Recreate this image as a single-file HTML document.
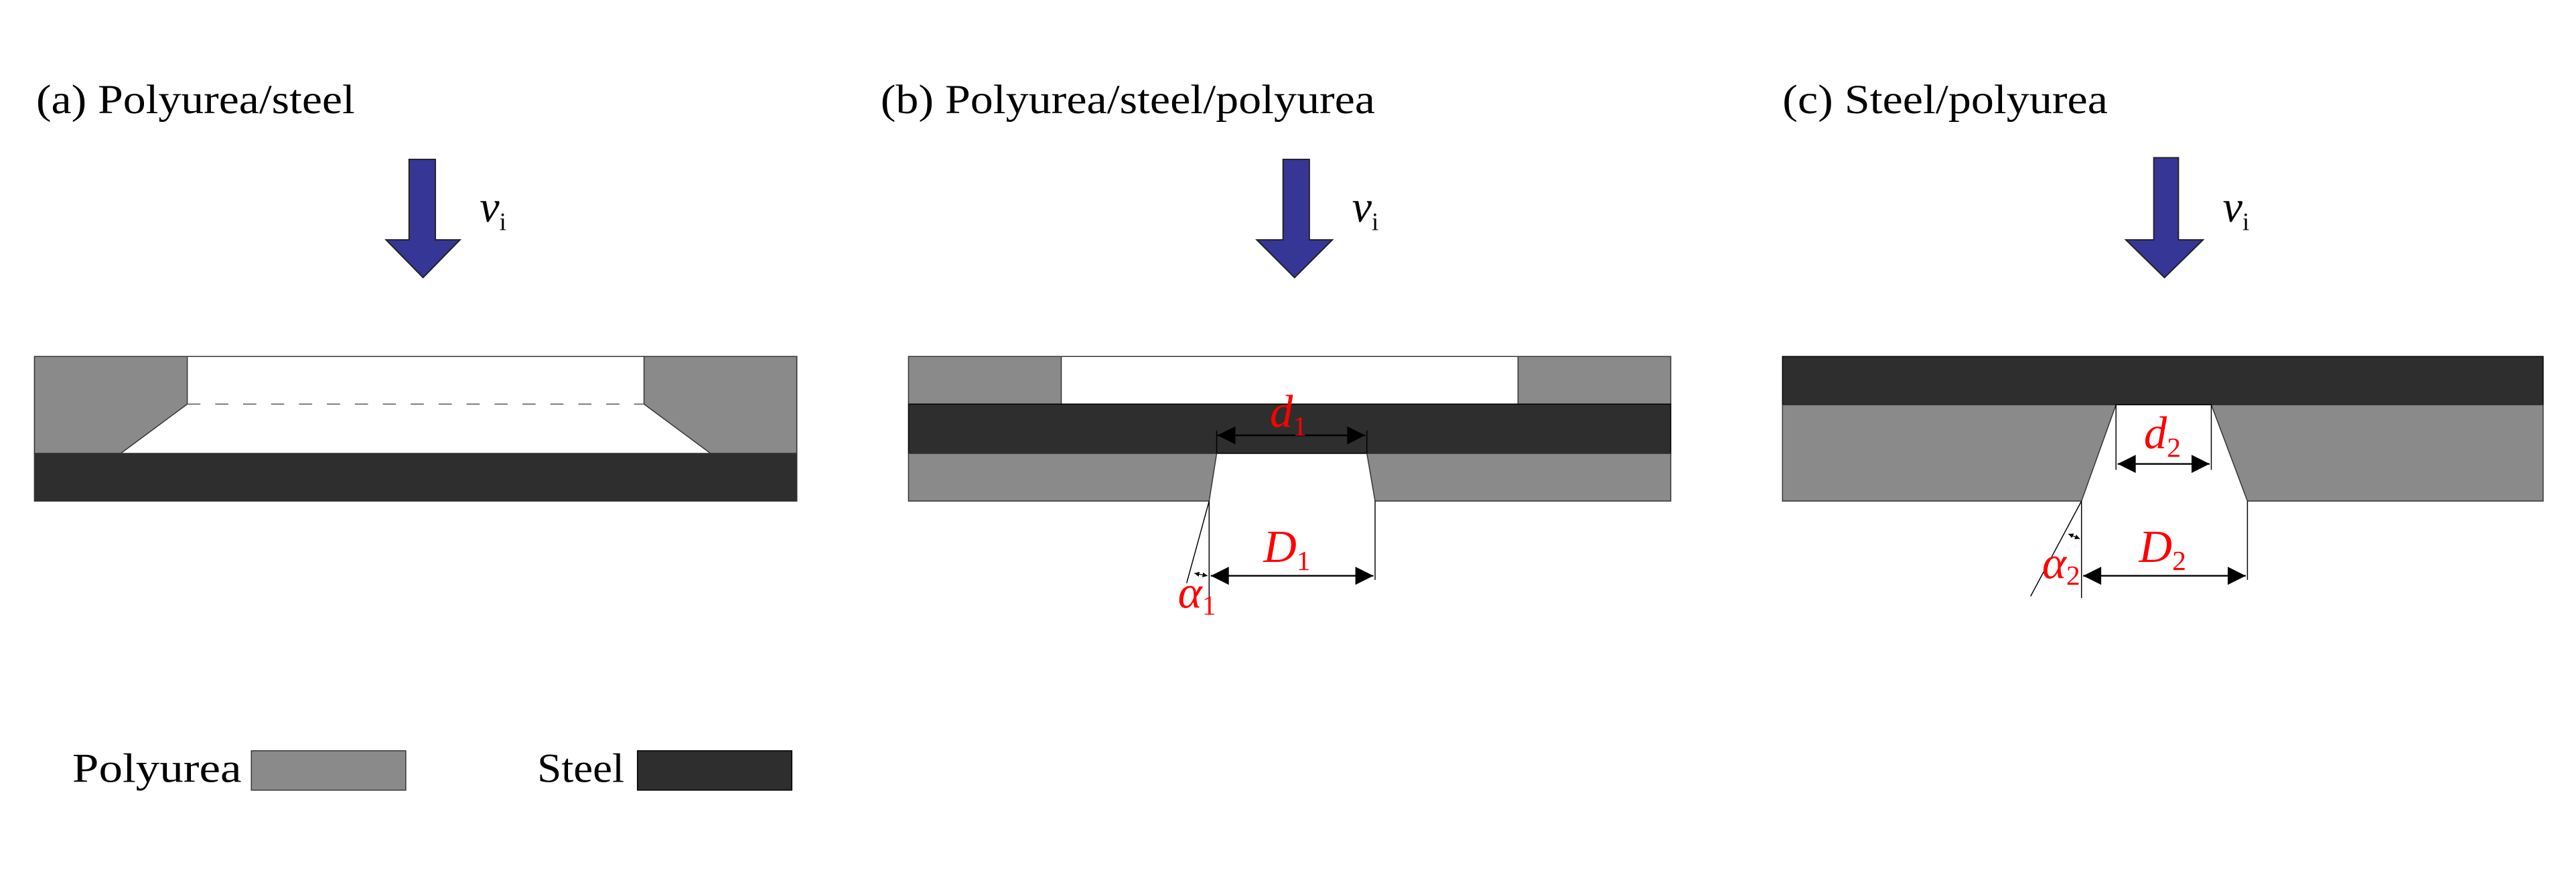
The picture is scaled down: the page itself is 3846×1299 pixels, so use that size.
<!DOCTYPE html>
<html><head><meta charset="utf-8"><style>
html,body{margin:0;padding:0;background:#fff;}
svg{display:block;}
text{font-family:"Liberation Serif",serif;}
</style></head><body>
<svg width="3846" height="1299" viewBox="0 0 1568 529.6" preserveAspectRatio="none" xmlns="http://www.w3.org/2000/svg">
<defs>
<marker id="ah" viewBox="0 0 10 10" refX="10" refY="5" markerWidth="13" markerHeight="11" markerUnits="userSpaceOnUse" orient="auto-start-reverse"><path d="M0,0L10,5L0,10z" fill="#000"/></marker>
<marker id="as" viewBox="0 0 10 10" refX="10" refY="5" markerWidth="3" markerHeight="3" markerUnits="userSpaceOnUse" orient="auto-start-reverse"><path d="M0,0L10,5L0,10z" fill="#000"/></marker>
</defs>
<g font-size="25" fill="#000">
<text x="22" y="69" textLength="194" lengthAdjust="spacingAndGlyphs">(a) Polyurea/steel</text>
<text x="536" y="69" textLength="301" lengthAdjust="spacingAndGlyphs">(b) Polyurea/steel/polyurea</text>
<text x="1085" y="69" textLength="198" lengthAdjust="spacingAndGlyphs">(c) Steel/polyurea</text>
</g>
<g fill="#363696" stroke="#222" stroke-width="0.8">
<path d="M249,97H265V146H280L257.5,169L235,146H249Z"/>
<path d="M781,97H797V146H811L788,169L765,146H781Z"/>
<path d="M1311,96H1326V146H1341L1317.5,169L1294,146H1311Z"/>
</g>
<g font-style="italic" font-size="27">
<text x="292" y="135">v<tspan font-style="normal" font-size="15" dy="5">i</tspan></text>
<text x="823" y="135">v<tspan font-style="normal" font-size="15" dy="5">i</tspan></text>
<text x="1353" y="135">v<tspan font-style="normal" font-size="15" dy="5">i</tspan></text>
</g>
<!-- panel a -->
<g stroke="#333" stroke-width="0.6">
<rect x="21" y="217" width="464" height="88" fill="#fff"/>
<path d="M21,217H114V246L73.5,276H21Z" fill="#8a8a8a"/>
<path d="M485,217H392V246L432.5,276H485Z" fill="#8a8a8a"/>
<rect x="21" y="276" width="464" height="29" fill="#2e2e2e"/>
<line x1="114" y1="246" x2="392" y2="246" stroke-dasharray="8,9" stroke="#555"/>
</g>
<!-- panel b -->
<g stroke="#333" stroke-width="0.6">
<rect x="553" y="217" width="464" height="29" fill="#8a8a8a"/>
<rect x="646" y="217" width="278" height="29" fill="#fff"/>
<rect x="553" y="246" width="464" height="30" fill="#2e2e2e" stroke="#000"/>
<path d="M553,276H740.6L736,305H553Z" fill="#8a8a8a"/>
<path d="M1017,276H832L837,305H1017Z" fill="#8a8a8a"/>
</g>
<g stroke="#000" stroke-width="0.6" fill="none">
<line x1="740.6" y1="262" x2="740.6" y2="276"/>
<line x1="832" y1="262" x2="832" y2="276"/>
<line x1="741" y1="265" x2="831" y2="265" stroke-width="1" marker-start="url(#ah)" marker-end="url(#ah)"/>
<line x1="736" y1="305" x2="736" y2="366"/>
<line x1="837" y1="305" x2="837" y2="353"/>
<line x1="736" y1="305" x2="722.3" y2="355"/>
<line x1="737" y1="350.5" x2="836" y2="350.5" stroke-width="1" marker-start="url(#ah)" marker-end="url(#ah)"/>
<line x1="727" y1="349" x2="735" y2="350.5" stroke-width="0.5" marker-start="url(#as)" marker-end="url(#as)"/>
</g>
<g fill="#f00" font-style="italic" font-size="28">
<text x="773" y="260">d<tspan font-style="normal" font-size="17" dy="5">1</tspan></text>
<text x="769" y="342">D<tspan font-style="normal" font-size="17" dy="5">1</tspan></text>
<text x="717" y="370">α<tspan font-style="normal" font-size="17" dy="4">1</tspan></text>
</g>
<!-- panel c -->
<g stroke="#333" stroke-width="0.6">
<rect x="1085" y="217" width="463" height="29.4" fill="#2e2e2e" stroke="#000"/>
<path d="M1085,246.4H1288L1267,305H1085Z" fill="#8a8a8a"/>
<path d="M1548,246.4H1346L1368,305H1548Z" fill="#8a8a8a"/>
</g>
<g stroke="#000" stroke-width="0.6" fill="none">
<line x1="1288" y1="246" x2="1288" y2="286"/>
<line x1="1346" y1="246" x2="1346" y2="286"/>
<line x1="1289" y1="282.4" x2="1345" y2="282.4" stroke-width="1" marker-start="url(#ah)" marker-end="url(#ah)"/>
<line x1="1267" y1="305" x2="1267" y2="364"/>
<line x1="1368" y1="305" x2="1368" y2="353"/>
<line x1="1267" y1="305" x2="1236" y2="363"/>
<line x1="1268" y1="350.5" x2="1367" y2="350.5" stroke-width="1" marker-start="url(#ah)" marker-end="url(#ah)"/>
<line x1="1259" y1="325" x2="1266" y2="328" stroke-width="0.5" marker-start="url(#as)" marker-end="url(#as)"/>
</g>
<g fill="#f00" font-style="italic" font-size="28">
<text x="1305" y="273">d<tspan font-style="normal" font-size="17" dy="5">2</tspan></text>
<text x="1302" y="342">D<tspan font-style="normal" font-size="17" dy="5">2</tspan></text>
<text x="1243" y="352">α<tspan font-style="normal" font-size="17" dy="4">2</tspan></text>
</g>
<!-- legend -->
<g font-size="25">
<text x="44" y="476" textLength="103" lengthAdjust="spacingAndGlyphs">Polyurea</text>
<text x="327" y="476" textLength="53" lengthAdjust="spacingAndGlyphs">Steel</text>
</g>
<rect x="153" y="457" width="94" height="24" fill="#8a8a8a" stroke="#333" stroke-width="0.6"/>
<rect x="388" y="457" width="94" height="24" fill="#2e2e2e" stroke="#000" stroke-width="0.6"/>
</svg>
</body></html>
